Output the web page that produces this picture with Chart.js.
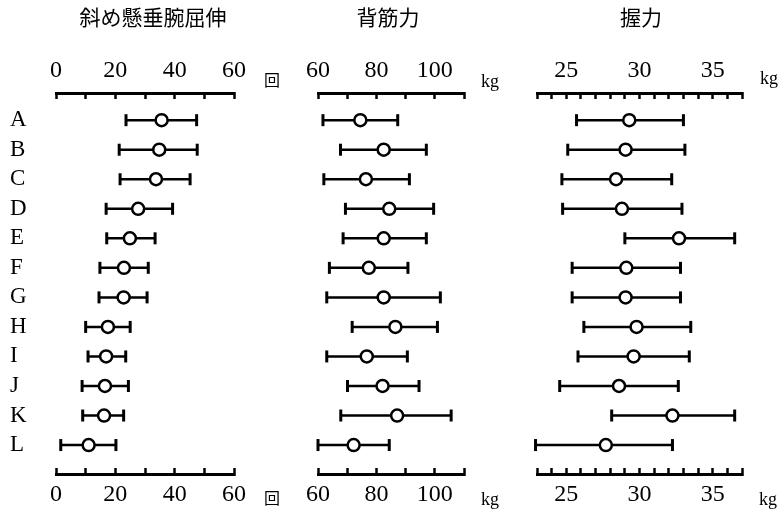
<!DOCTYPE html>
<html>
<head>
<meta charset="utf-8">
<script src="https://cdn.jsdelivr.net/npm/chart.js@4/dist/chart.umd.min.js"></script>
<style>
  body { margin: 0; background: #fff; }
  #wrap { position: relative; width: 780px; height: 512px; overflow: hidden; }
  #wrap canvas { position: absolute; top: 0; }
  .txt { position: absolute; color: #000; white-space: nowrap; transform: translate(-50%, -50%); }
  .ttl { font: 21px "Noto Sans CJK JP", sans-serif; }
  .unit { font: 18px "Liberation Serif", serif; }
  .kai { font: 16px "Noto Sans CJK JP", sans-serif; }
</style>
</head>
<body>
<div id="wrap">
  <canvas id="c1" width="290" height="512" style="left:0"></canvas>
  <canvas id="c2" width="230" height="512" style="left:290px"></canvas>
  <canvas id="c3" width="260" height="512" style="left:520px"></canvas>
  <span class="txt ttl" style="left:153px;top:16px">斜め懸垂腕屈伸</span>
  <span class="txt ttl" style="left:388px;top:16px">背筋力</span>
  <span class="txt ttl" style="left:641px;top:16px">握力</span>
  <span class="txt kai" style="left:272px;top:79px">回</span>
  <span class="txt kai" style="left:272px;top:497px">回</span>
  <span class="txt unit" style="left:490px;top:81px">kg</span>
  <span class="txt unit" style="left:490px;top:499px">kg</span>
  <span class="txt unit" style="left:769px;top:78px">kg</span>
  <span class="txt unit" style="left:768px;top:499px">kg</span>
</div>
<script>
// 行
var rows = ['A', 'B', 'C', 'D', 'E', 'F', 'G', 'H', 'I', 'J', 'K', 'L'];

// 斜め懸垂腕屈伸 (回)
var pullMean = [35.6, 34.8, 33.7, 27.7, 24.9, 22.9, 22.8, 17.5, 16.9, 16.5, 16.2, 11.0];
var pullLow  = [23.6, 21.3, 21.6, 16.9, 17.1, 14.8, 14.5, 10.0, 10.8, 8.8, 9.0, 1.6];
var pullHigh = [47.4, 47.6, 45.2, 39.3, 33.4, 31.1, 30.7, 25.0, 23.5, 24.4, 22.8, 20.2];
var pullTicks  = [0, 10, 20, 30, 40, 50, 60];
var pullLabels = ['0', '', '20', '', '40', '', '60'];

// 背筋力 (kg)
var backMean = [74.5, 82.5, 76.4, 84.4, 82.5, 77.4, 82.5, 86.5, 76.7, 82.1, 87.1, 72.2];
var backLow  = [61.7, 67.7, 62.0, 69.4, 68.6, 63.9, 63.0, 71.7, 63.0, 70.1, 67.8, 60.0];
var backHigh = [87.3, 97.1, 91.3, 99.6, 97.1, 90.8, 101.9, 100.9, 90.6, 94.6, 105.6, 84.4];
var backTicks  = [60, 70, 80, 90, 100, 110];
var backLabels = ['60', '', '80', '', '100', ''];

// 握力 (kg)
var gripMean = [29.3, 29.05, 28.4, 28.8, 32.7, 29.1, 29.05, 29.8, 29.6, 28.6, 32.25, 27.7];
var gripLow  = [25.7, 25.1, 24.7, 24.75, 29.0, 25.4, 25.4, 26.2, 25.8, 24.55, 28.1, 22.9];
var gripHigh = [33.0, 33.1, 32.2, 32.9, 36.5, 32.8, 32.8, 33.5, 33.4, 32.65, 36.5, 32.25];
var gripTicks  = [23, 24, 25, 26, 27, 28, 29, 30, 31, 32, 33, 34, 35, 36, 37];
var gripLabels = ['', '', '25', '', '', '', '', '30', '', '', '', '', '35', '', ''];

var numFont = { family: '"Liberation Serif", serif', size: 24 };

function xAxis(pos, ticks, labels, height, pad) {
  return {
    type: 'linear',
    position: pos,
    min: ticks[0],
    max: ticks[ticks.length - 1],
    afterBuildTicks: function(s) {
      s.ticks = ticks.map(function(v) { return { value: v }; });
    },
    afterFit: function(s) { s.height = height; },
    ticks: {
      color: '#000',
      font: numFont,
      padding: pad,
      maxRotation: 0,
      autoSkip: false,
      callback: function(v) {
        var i = ticks.indexOf(v);
        return i < 0 ? '' : labels[i];
      }
    },
    border: { color: '#000', width: 3 },
    grid: { drawOnChartArea: false, color: '#000', tickLength: -6, tickWidth: 2.5 }
  };
}

function makePanel(id, mean, low, high, ticks, labels, padL, padR, showRows) {
  // 誤差線: 下限, 上限, 区切り
  var bars = [];
  rows.forEach(function(r, i) {
    bars.push({ x: low[i], y: i });
    bars.push({ x: high[i], y: i });
    bars.push({ x: null, y: null });
  });
  var dots = mean.map(function(m, i) { return { x: m, y: i }; });

  new Chart(document.getElementById(id), {
    type: 'scatter',
    data: {
      datasets: [{
        data: dots,
        order: 0,
        pointRadius: 6,
        pointBorderWidth: 2.5,
        pointBackgroundColor: '#fff',
        pointBorderColor: '#000',
        clip: false
      }, {
        data: bars,
        order: 1,
        showLine: true,
        spanGaps: false,
        borderColor: '#000',
        borderWidth: 2.5,
        pointStyle: 'line',
        rotation: 90,
        pointRadius: 6,
        pointBorderWidth: 3,
        pointBorderColor: '#000',
        clip: false
      }]
    },
    options: {
      responsive: false,
      animation: false,
      events: [],
      layout: { padding: { left: padL, right: padR, top: 0, bottom: 0 } },
      plugins: { legend: { display: false }, tooltip: { enabled: false } },
      scales: {
        x: xAxis('bottom', ticks, labels, 38, 12),
        x2: xAxis('top', ticks, labels, 93, 14),
        y: {
          type: 'linear',
          display: showRows,
          reverse: true,
          min: -0.92,
          max: 11.98,
          afterBuildTicks: function(s) {
            s.ticks = rows.map(function(r, i) { return { value: i }; });
          },
          afterFit: function(s) { s.width = showRows ? 46 : 0; },
          ticks: {
            color: '#000',
            font: { family: '"Liberation Serif", serif', size: 23 },
            crossAlign: 'far',
            callback: function(v) { return rows[v]; }
          },
          border: { display: false },
          grid: { display: false }
        }
      }
    }
  });
}

makePanel('c1', pullMean, pullLow, pullHigh, pullTicks, pullLabels, 10, 56, true);
makePanel('c2', backMean, backLow, backHigh, backTicks, backLabels, 28, 56, false);
makePanel('c3', gripMean, gripLow, gripHigh, gripTicks, gripLabels, 17, 38, false);
</script>
</body>
</html>
